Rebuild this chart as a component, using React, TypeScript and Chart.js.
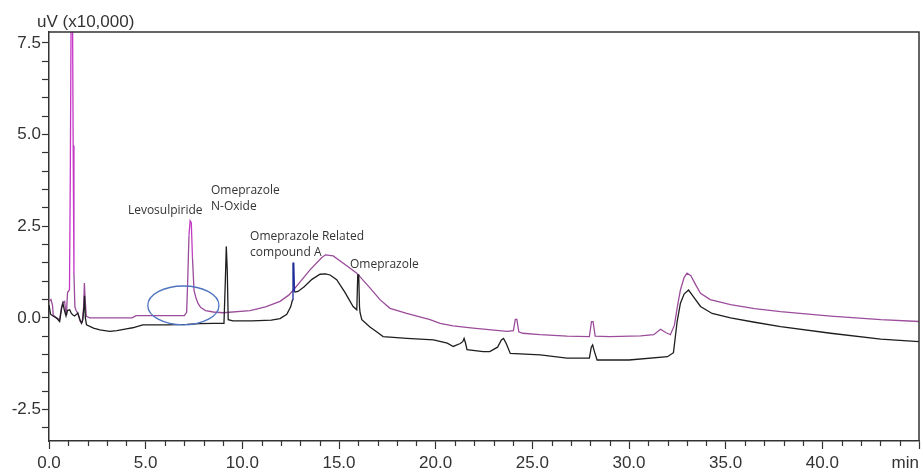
import React, { useEffect, useRef } from 'react';
import { Chart, registerables } from 'chart.js';

Chart.register(...registerables);

// ---- Data (time in min, signal in uV x10,000) ----
const X_MIN = 0;
const X_MAX = 45;
const Y_MIN = -3.36;
const Y_MAX = 7.8;
const X_LABEL_VALUES = [0, 5, 10, 15, 20, 25, 30, 35, 40];
const Y_LABEL_VALUES = [-2.5, 0, 2.5, 5, 7.5];
const Y_AXIS_UNIT = 'uV (x10,000)';
const X_AXIS_UNIT = 'min';

const purpleTrace: [number, number][] = [
  [0, 0.45], [0.1, 0.5], [0.18, 0.35], [0.22, 0.08], [0.38, 0.0], [0.55, -0.05],
  [0.65, 0.3], [0.72, 0.42], [0.81, 0.45], [0.88, 0.1], [0.92, 0.3], [0.96, 0.7],
  [1.06, 0.76], [1.1, 3.7], [1.15, 9.0], [1.21, 9.0], [1.25, 4.7], [1.29, 1.2],
  [1.34, 0.3], [1.4, 0.2], [1.49, 0.13], [1.62, -0.1], [1.72, -0.12], [1.79, 0.3],
  [1.83, 0.95], [1.87, 0.5], [1.93, 0.04], [2.11, 0.0], [4.3, 0.0], [4.5, 0.06],
  [7.0, 0.06], [7.12, 0.15], [7.18, 1.1], [7.24, 2.25], [7.3, 2.65], [7.36, 2.6],
  [7.42, 1.65], [7.5, 0.75], [7.6, 0.55], [7.7, 0.4], [7.85, 0.28], [8.1, 0.2],
  [8.5, 0.16], [9.0, 0.14], [10.4, 0.2], [11.2, 0.3], [11.95, 0.45], [12.4, 0.62],
  [12.64, 0.76], [13.0, 0.99], [13.5, 1.31], [14.1, 1.64], [14.3, 1.72], [14.7, 1.69],
  [15.4, 1.42], [15.92, 1.22], [16.6, 0.82], [17.13, 0.49], [17.64, 0.26], [18.5, 0.12],
  [19.71, -0.05], [20.23, -0.15], [20.9, -0.22], [21.94, -0.28], [23.69, -0.37],
  [24.02, -0.35], [24.12, -0.04], [24.2, -0.04], [24.3, -0.38], [24.5, -0.42],
  [25.4, -0.46], [26.8, -0.5], [27.95, -0.51], [28.06, -0.1], [28.14, -0.1],
  [28.25, -0.5], [29.0, -0.51], [30.6, -0.49], [31.28, -0.46], [31.63, -0.31],
  [31.9, -0.4], [32.14, -0.46], [32.35, -0.2], [32.5, 0.3], [32.66, 0.76],
  [32.85, 1.1], [33.0, 1.22], [33.2, 1.15], [33.45, 0.9], [33.7, 0.67], [34.2, 0.5],
  [35.25, 0.36], [36.5, 0.25], [37.84, 0.17], [40.43, 0.05], [43.02, -0.05], [45, -0.1],
];

const blackTrace: [number, number][] = [
  [0, 0.35], [0.08, 0.1], [0.21, 0.05], [0.38, 0.0], [0.55, -0.1], [0.65, 0.25],
  [0.72, 0.4], [0.8, 0.2], [0.88, 0.05], [0.95, 0.2], [1.07, 0.22], [1.16, 0.12],
  [1.24, 0.08], [1.33, 0.05], [1.49, 0.13], [1.6, -0.05], [1.68, -0.15], [1.75, -0.05],
  [1.81, 0.3], [1.84, 0.6], [1.88, 0.0], [1.94, -0.19], [2.3, -0.28], [2.63, -0.33],
  [3.14, -0.37], [3.51, -0.35], [4.0, -0.3], [4.33, -0.27], [4.85, -0.19], [6.1, -0.19],
  [7.13, -0.18], [7.8, -0.16], [8.5, -0.15], [9.05, -0.15], [9.12, 1.0], [9.17, 1.95],
  [9.22, 1.3], [9.27, -0.05], [9.51, -0.08], [10.5, -0.08], [11.5, -0.06], [11.95, -0.02],
  [12.3, 0.1], [12.5, 0.3], [12.6, 0.5], [12.62, 1.49], [12.66, 1.49], [12.7, 0.7],
  [12.88, 0.72], [13.2, 0.85], [13.6, 1.05], [14.02, 1.19], [14.3, 1.2], [14.54, 1.17],
  [14.88, 1.04], [15.3, 0.7], [15.73, 0.31], [15.92, 0.22], [15.97, 1.17], [16.02, 1.17],
  [16.06, 0.3], [16.09, 0.14], [16.18, -0.05], [16.6, -0.25], [17.0, -0.4], [17.28, -0.51],
  [18.51, -0.56], [19.89, -0.6], [20.6, -0.69], [20.91, -0.78], [21.27, -0.7], [21.4, -0.65],
  [21.47, -0.56], [21.55, -0.7], [21.62, -0.87], [22.46, -0.92], [22.8, -0.92], [23.2, -0.8],
  [23.4, -0.6], [23.51, -0.56], [23.65, -0.7], [23.86, -0.97], [25.41, -1.01], [26.79, -1.1],
  [27.95, -1.1], [28.05, -0.8], [28.12, -0.74], [28.2, -0.9], [28.35, -1.15], [30.0, -1.15],
  [31.99, -1.06], [32.3, -0.95], [32.49, -0.1], [32.66, 0.4], [32.85, 0.65], [33.08, 0.76],
  [33.3, 0.6], [33.7, 0.31], [34.3, 0.12], [35.25, 0.0], [36.5, -0.12], [37.84, -0.24],
  [40.43, -0.42], [43.02, -0.58], [45, -0.65],
];

// Peak annotations: text lines anchored at (time, value) of their left / vertical centre
const peakLabels: { lines: string[]; t: number; v: number }[] = [
  { lines: ['Levosulpiride'], t: 4.08, v: 2.92 },
  { lines: ['Omeprazole', 'N-Oxide'], t: 8.38, v: 3.46 },
  { lines: ['Omeprazole Related', 'compound A'], t: 10.4, v: 2.23 },
  { lines: ['Omeprazole'], t: 15.57, v: 1.45 },
];

// Ellipse highlighting the Levosulpiride region (centre time/value, radii in data units)
const highlight = { t: 6.95, v: 0.34, rt: 1.84, rv: 0.53 };

const AXIS_FONT = "'Liberation Sans', Arial, sans-serif";
const NOTE_FONT = "'Open Sans', 'Noto Sans', sans-serif";

const overlayPlugin = {
  id: 'overlay',
  afterDraw(chart: any) {
    const { ctx, chartArea: a, scales } = chart;
    const x = scales.x;
    const y = scales.y;
    ctx.save();
    // frame top & right
    ctx.strokeStyle = '#333';
    ctx.lineWidth = 1.5;
    ctx.beginPath();
    ctx.moveTo(a.left, a.top);
    ctx.lineTo(a.right, a.top);
    ctx.lineTo(a.right, a.bottom);
    ctx.stroke();
    // minor x ticks
    ctx.lineWidth = 1.2;
    ctx.beginPath();
    for (let t = X_MIN; t <= X_MAX; t += 1) {
      if (t % 5 === 0) continue;
      const px = Math.round(x.getPixelForValue(t)) + 0.5;
      ctx.moveTo(px, a.bottom);
      ctx.lineTo(px, a.bottom + 5);
    }
    ctx.stroke();
    // unit labels
    ctx.fillStyle = '#333';
    ctx.font = `17px ${AXIS_FONT}`;
    ctx.textBaseline = 'middle';
    ctx.textAlign = 'left';
    ctx.fillText(Y_AXIS_UNIT, a.left - 12, a.top - 10);
    ctx.textAlign = 'right';
    ctx.fillText(X_AXIS_UNIT, a.right, a.bottom + 22);
    // ellipse
    const cx = x.getPixelForValue(highlight.t);
    const cy = y.getPixelForValue(highlight.v);
    const rx = Math.abs(x.getPixelForValue(highlight.t + highlight.rt) - cx);
    const ry = Math.abs(y.getPixelForValue(highlight.v + highlight.rv) - cy);
    ctx.strokeStyle = '#4f74c0';
    ctx.lineWidth = 1.3;
    ctx.beginPath();
    ctx.ellipse(cx, cy, rx, ry, 0, 0, Math.PI * 2);
    ctx.stroke();
    // peak labels
    ctx.fillStyle = '#333';
    ctx.font = `12px ${NOTE_FONT}`;
    ctx.textAlign = 'left';
    ctx.textBaseline = 'middle';
    for (const lab of peakLabels) {
      const px = x.getPixelForValue(lab.t);
      const py = y.getPixelForValue(lab.v);
      lab.lines.forEach((line, i) => ctx.fillText(line, px, py + i * 16));
    }
    ctx.restore();
  },
};

const isMultiple = (v: number, step: number) => Math.abs(v / step - Math.round(v / step)) < 1e-6;

export default function App() {
  const canvasRef = useRef<HTMLCanvasElement | null>(null);

  useEffect(() => {
    if (!canvasRef.current) return;
    const chart = new Chart(canvasRef.current, {
      type: 'line',
      data: {
        datasets: [
          {
            label: 'trace 2',
            data: blackTrace.map(([t, v]) => ({ x: t, y: v })),
            borderColor: '#1e1e1e',
            borderWidth: 1.3,
            pointRadius: 0,
            tension: 0,
            segment: {
              borderColor: (c: any) => {
                const t = c.p0.parsed.x;
                return t >= 12.55 && t <= 12.68 ? '#1c2a9a' : undefined;
              },
            },
            order: 1,
          },
          {
            label: 'trace 1',
            data: purpleTrace.map(([t, v]) => ({ x: t, y: v })),
            borderColor: '#9b4c9b',
            borderWidth: 1.3,
            pointRadius: 0,
            tension: 0,
            segment: {
              borderColor: (c: any) => {
                const t = c.p0.parsed.x;
                if (t >= 1.05 && t <= 1.28) return '#c636c6';
                if (t >= 7.2 && t <= 7.4) return '#c23cc2';
                return undefined;
              },
            },
            order: 2,
          },
        ],
      },
      options: {
        animation: false,
        responsive: true,
        maintainAspectRatio: false,
        layout: { padding: { left: 0, right: 4, top: 32, bottom: 0 } },
        plugins: {
          legend: { display: false },
          tooltip: { enabled: false },
        },
        scales: {
          x: {
            type: 'linear',
            min: X_MIN,
            max: X_MAX,
            afterFit: (s: any) => { s.height = 32; },
            border: { display: true, color: '#333', width: 1.5 },
            grid: {
              display: true,
              drawOnChartArea: false,
              drawTicks: true,
              tickLength: 8,
              tickWidth: 1.2,
              tickColor: (c: any) => (c.tick && isMultiple(c.tick.value, 5) ? '#333' : 'rgba(0,0,0,0)'),
            },
            ticks: {
              stepSize: 1,
              autoSkip: false,
              maxRotation: 0,
              padding: 4,
              color: '#333',
              font: { family: AXIS_FONT, size: 17 },
              callback: (val: any) => {
                const v = Number(val);
                return X_LABEL_VALUES.some((l) => Math.abs(l - v) < 1e-6) ? v.toFixed(1) : '';
              },
            },
          },
          y: {
            type: 'linear',
            min: Y_MIN,
            max: Y_MAX,
            afterFit: (s: any) => { s.width = 49; },
            border: { display: true, color: '#333', width: 1.5 },
            grid: {
              display: true,
              drawOnChartArea: false,
              drawTicks: true,
              tickLength: 7,
              tickWidth: 1.2,
              tickColor: '#333',
            },
            ticks: {
              stepSize: 0.5,
              includeBounds: false,
              autoSkip: false,
              padding: 1,
              color: '#333',
              font: { family: AXIS_FONT, size: 17 },
              callback: (val: any) => {
                const v = Number(val);
                return Y_LABEL_VALUES.some((l) => Math.abs(l - v) < 1e-6) ? v.toFixed(1) : '';
              },
            },
          },
        },
      },
      plugins: [overlayPlugin],
    });
    return () => chart.destroy();
  }, []);

  return (
    <div style={{ position: 'fixed', left: 0, top: 0, width: 923, height: 473, background: '#fff' }}>
      <canvas ref={canvasRef} />
    </div>
  );
}
